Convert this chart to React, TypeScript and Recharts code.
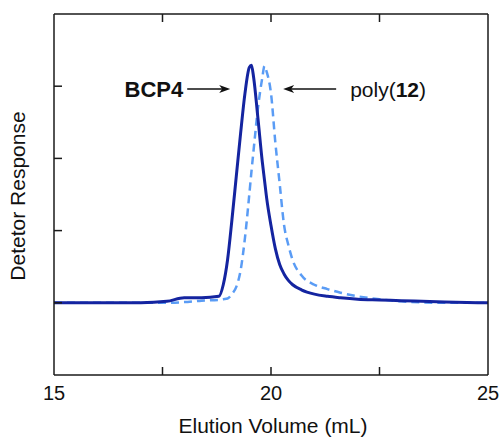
import React from 'react';
import { LineChart, Line, XAxis, YAxis, ReferenceDot, Label } from 'recharts';

// Elution volume (mL), shared by both traces
const volume = [
  15, 16, 17, 17.6, 18, 18.4, 18.8, 18.9, 19.0, 19.1, 19.2, 19.3, 19.4, 19.5, 19.55, 19.6,
  19.7, 19.8, 19.85, 19.9, 20.0, 20.1, 20.2, 20.3, 20.4, 20.5, 20.7, 21.0, 21.3, 21.6, 22.0, 22.5, 23, 24, 25,
];
// BCP4 detector response (solid)
const bcp4 = [
  1.0, 1.0, 1.0, 1.02, 1.07, 1.07, 1.09, 1.25, 1.6, 2.15, 2.75, 3.35, 3.9, 4.26, 4.29, 4.12,
  3.55, 2.95, 2.7, 2.45, 2.07, 1.75, 1.53, 1.4, 1.31, 1.25, 1.18, 1.12, 1.09, 1.07, 1.05, 1.04, 1.03, 1.01, 1.0,
];
// poly(12) detector response (dashed)
const poly12 = [
  1.0, 1.0, 1.0, 1.0, 1.01, 1.03, 1.04, 1.05, 1.06, 1.12, 1.22, 1.45, 1.9, 2.5, 2.82, 3.12,
  3.7, 4.12, 4.28, 4.2, 3.9, 3.22, 2.65, 2.08, 1.8, 1.59, 1.38, 1.25, 1.19, 1.14, 1.09, 1.05, 1.02, 1.0, 1.0,
];
const xTicks = [15, 17.5, 20, 22.5, 25];
const yTicks = [1, 2, 3, 4];

const data = volume.map((v, i) => ({ v, bcp4: bcp4[i], poly12: poly12[i] }));

const FONT = '"Liberation Sans", Arial, Helvetica, sans-serif';
const AXIS = '#1a1a1a';
const TICK = 8;

// inward tick marks drawn by hand, since the frame ticks point into the plot
const BottomTick = (props: any) => {
  const { x, y, payload } = props;
  const v = payload.value;
  const edge = v === 15 || v === 25;
  return (
    <g>
      {!edge && <line x1={x} x2={x} y1={y - 11} y2={y - 11 - TICK} stroke={AXIS} strokeWidth={1.5} />}
      {v % 5 === 0 && (
        <text x={x} y={y + 14} textAnchor="middle" fontFamily={FONT} fontSize={20} fill="#111">
          {v}
        </text>
      )}
    </g>
  );
};

const TopTick = (props: any) => {
  const { x, y, payload } = props;
  if (payload.value === 15 || payload.value === 25) return <g />;
  return <line x1={x} x2={x} y1={y} y2={y + TICK} stroke={AXIS} strokeWidth={1.5} />;
};

const LeftTick = (props: any) => {
  const { x, y } = props;
  return <line x1={x} x2={x + TICK} y1={y} y2={y} stroke={AXIS} strokeWidth={1.5} />;
};

const RightTick = (props: any) => {
  const { x, y } = props;
  return <line x1={x} x2={x - TICK} y1={y} y2={y} stroke={AXIS} strokeWidth={1.5} />;
};

const BcpNote = (props: any) => {
  const { cx, cy } = props;
  return (
    <g>
      <text x={cx - 47} y={cy + 8} textAnchor="end" fontFamily={FONT} fontSize={22} fontWeight="bold" fill="#111">
        BCP4
      </text>
      <line x1={cx - 43} y1={cy} x2={cx - 6} y2={cy} stroke="#111" strokeWidth={1.5} />
      <polygon points={`${cx},${cy} ${cx - 11},${cy - 4} ${cx - 8},${cy} ${cx - 11},${cy + 4}`} fill="#111" />
    </g>
  );
};

const PolyNote = (props: any) => {
  const { cx, cy } = props;
  return (
    <g>
      <line x1={cx + 6} y1={cy} x2={cx + 53} y2={cy} stroke="#111" strokeWidth={1.5} />
      <polygon points={`${cx},${cy} ${cx + 11},${cy - 4} ${cx + 8},${cy} ${cx + 11},${cy + 4}`} fill="#111" />
      <text x={cx + 67} y={cy + 8} fontFamily={FONT} fontSize={21} fill="#111">
        poly(<tspan fontWeight="bold">12</tspan>)
      </text>
    </g>
  );
};

const App: React.FC = () => {
  return (
    <div style={{ width: 501, height: 438, background: '#fff' }}>
      <style>{`body{margin:0}`}</style>
      <LineChart width={501} height={438} data={data} margin={{ top: 13, right: 12, bottom: 0, left: 0 }}>
        <XAxis
          dataKey="v"
          type="number"
          domain={[15, 25]}
          ticks={xTicks}
          height={63}
          tickSize={0}
          tickMargin={11}
          tick={<BottomTick />}
          axisLine={{ stroke: AXIS, strokeWidth: 1.5 }}
          tickLine={false}
        >
          <Label
            content={({ viewBox }: any) => (
              <text x={viewBox.x + viewBox.width / 2 + 2} y={433} textAnchor="middle" fontFamily={FONT} fontSize={21} fill="#111">
                Elution Volume (mL)
              </text>
            )}
          />
        </XAxis>
        <XAxis
          xAxisId="top"
          orientation="top"
          dataKey="v"
          type="number"
          domain={[15, 25]}
          ticks={xTicks}
          height={1}
          tickSize={0}
          tickMargin={0}
          tick={<TopTick />}
          axisLine={{ stroke: AXIS, strokeWidth: 1.5 }}
          tickLine={false}
        />
        <YAxis
          type="number"
          domain={[0, 5]}
          ticks={yTicks}
          width={54}
          tickSize={0}
          tickMargin={0}
          tick={<LeftTick />}
          axisLine={{ stroke: AXIS, strokeWidth: 1.5 }}
          tickLine={false}
        >
          <Label
            content={() => (
              <text x={25} y={196} transform="rotate(-90 25 196)" textAnchor="middle" fontFamily={FONT} fontSize={21} fill="#111">
                Detetor Response
              </text>
            )}
          />
        </YAxis>
        <YAxis
          yAxisId="right"
          orientation="right"
          type="number"
          domain={[0, 5]}
          ticks={yTicks}
          width={1}
          tickSize={0}
          tickMargin={0}
          tick={<RightTick />}
          axisLine={{ stroke: AXIS, strokeWidth: 1.5 }}
          tickLine={false}
        />
        <Line
          type="monotone"
          dataKey="poly12"
          stroke="#5a9cf5"
          strokeWidth={2.5}
          strokeDasharray="8 5"
          dot={false}
          isAnimationActive={false}
        />
        <Line
          type="monotone"
          dataKey="bcp4"
          stroke="#1424a0"
          strokeWidth={3}
          dot={false}
          isAnimationActive={false}
        />
        <ReferenceDot x={19.06} y={3.96} r={0} shape={BcpNote} />
        <ReferenceDot x={20.28} y={3.96} r={0} shape={PolyNote} />
      </LineChart>
    </div>
  );
};

export default App;
